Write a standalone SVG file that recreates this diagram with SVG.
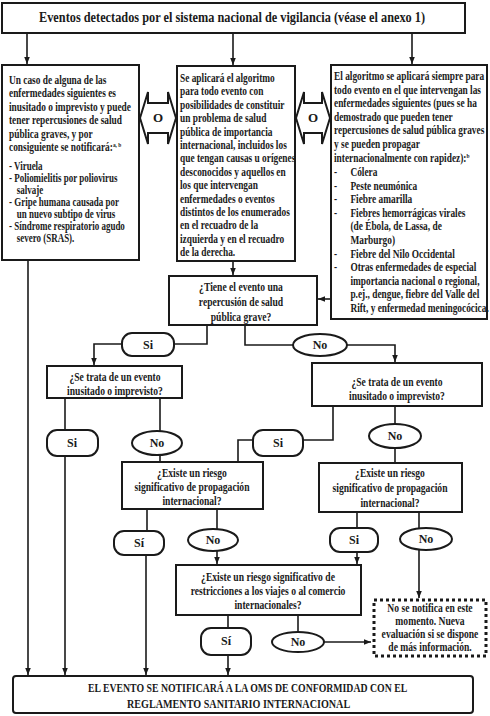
<svg xmlns="http://www.w3.org/2000/svg" width="490" height="716" viewBox="0 0 490 716">
<defs>
<style>
.box{fill:#fff;stroke:#1a1a1a;stroke-width:2}
.dot{fill:#fff;stroke:#1a1a1a;stroke-width:3;stroke-dasharray:3 3}
.ln{fill:none;stroke:#1a1a1a;stroke-width:1.6}
.t{font-family:"Liberation Serif","Times New Roman",serif;font-weight:bold;font-size:12px;fill:#1a1a1a}
.s{font-size:11.5px}
.c{text-anchor:middle}
.sup{font-size:7px}
.lb{font-family:"Liberation Serif","Times New Roman",serif;font-weight:bold;font-size:12px;fill:#1a1a1a;text-anchor:middle}
</style>
<marker id="ah" viewBox="0 0 10 10" refX="10" refY="5" markerWidth="7" markerHeight="7" markerUnits="userSpaceOnUse" orient="auto"><path d="M0,1 L10,5 L0,9 z" fill="#1a1a1a"/></marker>
</defs>
<rect width="490" height="716" fill="#fff"/>

<g id="connectors">
<path class="ln" d="M27,33 V64" marker-end="url(#ah)"/>
<path class="ln" d="M233,33 V65" marker-end="url(#ah)"/>
<path class="ln" d="M412,33 V64" marker-end="url(#ah)"/>
<path class="ln" d="M28,260 V675" marker-end="url(#ah)"/>
<path class="ln" d="M233,260 V275" marker-end="url(#ah)"/>
<path class="ln" d="M331,299 H318" marker-end="url(#ah)"/>
<path class="ln" d="M207,325 V344 H174"/>
<path class="ln" d="M122,344 H94 V365" marker-end="url(#ah)"/>
<path class="ln" d="M245,325 V345 H293"/>
<path class="ln" d="M347,345 H395 V362" marker-end="url(#ah)"/>
<path class="ln" d="M65,398 V430"/>
<path class="ln" d="M65,456 V675" marker-end="url(#ah)"/>
<path class="ln" d="M160,398 V431"/>
<path class="ln" d="M160,455 V462"/>
<path class="ln" d="M333,406 V440 H303"/>
<path class="ln" d="M253,440 H238 V462"/>
<path class="ln" d="M395,406 V424"/>
<path class="ln" d="M395,448 V463"/>
<path class="ln" d="M147,509 V531"/>
<path class="ln" d="M146,555 V675" marker-end="url(#ah)"/>
<path class="ln" d="M217,509 V529"/>
<path class="ln" d="M217,551 V564" marker-end="url(#ah)"/>
<path class="ln" d="M357,512 V528"/>
<path class="ln" d="M357,552 V564" marker-end="url(#ah)"/>
<path class="ln" d="M419,512 V528"/>
<path class="ln" d="M419,550 V598" marker-end="url(#ah)"/>
<path class="ln" d="M228,615 V628"/>
<path class="ln" d="M228,655 V675" marker-end="url(#ah)"/>
<path class="ln" d="M298,615 V632"/>
<path class="ln" d="M324,642 H371" marker-end="url(#ah)"/>
</g>

<g id="top">
<rect class="box" x="2" y="3" width="463" height="30"/>
<g transform="translate(39,0) scale(0.78,1)">
<text class="t" x="0" y="22" style="font-size:14.5px" textLength="495" lengthAdjust="spacingAndGlyphs">Eventos detectados por el sistema nacional de vigilancia (véase el anexo 1)</text>
</g>
</g>

<g id="left-box">
<rect class="box" x="2" y="65" width="137" height="195"/>
<g transform="translate(9,0) scale(0.78,1)">
<text class="t" x="0" y="84">Un caso de alguna de las</text>
<text class="t" x="0" y="97.5">enfermedades siguientes es</text>
<text class="t" x="0" y="111">inusitado o imprevisto y puede</text>
<text class="t" x="0" y="124.5">tener repercusiones de salud</text>
<text class="t" x="0" y="138">pública graves, y por</text>
<text class="t" x="0" y="151.5">consiguiente se notificará:<tspan class="sup" dy="-4">a, b</tspan></text>
<text class="t s" x="0" y="170">-  Viruela</text>
<text class="t s" x="0" y="182">-  Poliomielitis por poliovirus</text>
<text class="t s" x="10" y="194">salvaje</text>
<text class="t s" x="0" y="206">-  Gripe humana causada por</text>
<text class="t s" x="10" y="218">un nuevo subtipo de virus</text>
<text class="t s" x="0" y="230">-  Síndrome respiratorio agudo</text>
<text class="t s" x="10" y="242">severo (SRAS).</text>
</g>
</g>

<g id="or-left">
<polygon class="box" points="140,118 148,92 148,103 168,103 168,92 176,118 168,144 168,133 148,133 148,144"/>
<text class="lb" x="158" y="122" style="font-size:13px">O</text>
</g>

<g id="middle-box">
<rect class="box" x="177" y="66" width="118" height="195"/>
<g transform="translate(180,0) scale(0.78,1)">
<text class="t" x="0" y="82">Se aplicará el algoritmo</text>
<text class="t" x="0" y="95.4">para todo evento con</text>
<text class="t" x="0" y="108.8">posibilidades de constituir</text>
<text class="t" x="0" y="122.2">un problema de salud</text>
<text class="t" x="0" y="135.6">pública de importancia</text>
<text class="t" x="0" y="149">internacional, incluidos los</text>
<text class="t" x="0" y="162.4">que tengan causas u orígenes</text>
<text class="t" x="0" y="175.8">desconocidos y aquellos en</text>
<text class="t" x="0" y="189.2">los que intervengan</text>
<text class="t" x="0" y="202.6">enfermedades o eventos</text>
<text class="t" x="0" y="216">distintos de los enumerados</text>
<text class="t" x="0" y="229.4">en el recuadro de la</text>
<text class="t" x="0" y="242.8">izquierda y en el recuadro</text>
<text class="t" x="0" y="256.2">de la derecha.</text>
</g>
</g>

<g id="or-right">
<polygon class="box" points="296,118 304,92 304,103 322,103 322,92 330,118 322,144 322,133 304,133 304,144"/>
<text class="lb" x="313" y="122" style="font-size:13px">O</text>
</g>

<g id="right-box">
<rect class="box" x="331" y="65" width="156" height="254"/>
<g transform="translate(334,0) scale(0.78,1)">
<text class="t" x="0" y="80">El algoritmo se aplicará siempre para</text>
<text class="t" x="0" y="93.6">todo evento en el que intervengan las</text>
<text class="t" x="0" y="107.2">enfermedades siguientes (pues se ha</text>
<text class="t" x="0" y="120.8">demostrado que pueden tener</text>
<text class="t" x="0" y="134.4">repercusiones de salud pública graves</text>
<text class="t" x="0" y="148">y se pueden propagar</text>
<text class="t" x="0" y="161.6">internacionalmente con rapidez):<tspan class="sup" dy="-4">b</tspan></text>
<text class="t" x="0" y="176">-</text><text class="t" x="21" y="176">Cólera</text>
<text class="t" x="0" y="190">-</text><text class="t" x="21" y="190">Peste neumónica</text>
<text class="t" x="0" y="203">-</text><text class="t" x="21" y="203">Fiebre amarilla</text>
<text class="t" x="0" y="217">-</text><text class="t" x="21" y="217">Fiebres hemorrágicas virales</text>
<text class="t" x="21" y="230">(de Ébola, de Lassa, de</text>
<text class="t" x="21" y="244">Marburgo)</text>
<text class="t" x="0" y="258">-</text><text class="t" x="21" y="258">Fiebre del Nilo Occidental</text>
<text class="t" x="0" y="271">-</text><text class="t" x="21" y="271">Otras enfermedades de especial</text>
<text class="t" x="21" y="285">importancia nacional o regional,</text>
<text class="t" x="21" y="298.5">p.ej., dengue, fiebre del Valle del</text>
<text class="t" x="21" y="312">Rift, y enfermedad meningocócica.</text>
</g>
</g>

<g id="q-grave">
<rect class="box" x="169" y="276" width="148" height="49"/>
<g transform="translate(241,0) scale(0.8,1)">
<text class="t c" x="0" y="291">¿Tiene el evento una</text>
<text class="t c" x="0" y="306">repercusión de salud</text>
<text class="t c" x="0" y="321">pública grave?</text>
</g>
</g>

<g id="si-1"><rect class="box" x="122" y="333" width="52" height="23" rx="10"/><text class="lb" x="148" y="349">Si</text></g>
<g id="no-1"><ellipse class="box" cx="320" cy="345" rx="27" ry="11"/><text class="lb" x="320" y="349">No</text></g>

<g id="q-inusitado-left">
<rect class="box" x="47" y="366" width="135" height="32"/>
<g transform="translate(115,0) scale(0.8,1)">
<text class="t c" x="0" y="381">¿Se trata de un evento</text>
<text class="t c" x="0" y="395">inusitado o imprevisto?</text>
</g>
</g>

<g id="q-inusitado-right">
<rect class="box" x="312" y="363" width="170" height="43"/>
<g transform="translate(397,0) scale(0.8,1)">
<text class="t c" x="0" y="386">¿Se trata de un evento</text>
<text class="t c" x="0" y="400">inusitado o imprevisto?</text>
</g>
</g>

<g id="si-2"><rect class="box" x="47" y="430" width="51" height="26" rx="10"/><text class="lb" x="72" y="447">Si</text></g>
<g id="no-2"><ellipse class="box" cx="157" cy="443" rx="25" ry="12"/><text class="lb" x="157" y="447">No</text></g>
<g id="si-3"><rect class="box" x="253" y="430" width="50" height="26" rx="10"/><text class="lb" x="278" y="447">Si</text></g>
<g id="no-3"><ellipse class="box" cx="395" cy="436" rx="26" ry="12"/><text class="lb" x="395" y="440">No</text></g>

<g id="q-propagacion-left">
<rect class="box" x="122" y="462" width="141" height="47"/>
<g transform="translate(192,0) scale(0.8,1)">
<text class="t c" x="0" y="477">¿Existe un riesgo</text>
<text class="t c" x="0" y="491">significativo de propagación</text>
<text class="t c" x="0" y="505">internacional?</text>
</g>
</g>

<g id="q-propagacion-right">
<rect class="box" x="319" y="463" width="143" height="49"/>
<g transform="translate(390,0) scale(0.8,1)">
<text class="t c" x="0" y="477">¿Existe un riesgo</text>
<text class="t c" x="0" y="492">significativo de propagación</text>
<text class="t c" x="0" y="507">internacional?</text>
</g>
</g>

<g id="si-4"><rect class="box" x="114" y="531" width="50" height="24" rx="10"/><text class="lb" x="139" y="547">Sí</text></g>
<g id="no-4"><ellipse class="box" cx="213" cy="540" rx="25" ry="11"/><text class="lb" x="213" y="544">No</text></g>
<g id="si-5"><rect class="box" x="330" y="528" width="48" height="24" rx="10"/><text class="lb" x="354" y="544">Si</text></g>
<g id="no-5"><ellipse class="box" cx="426" cy="539" rx="26" ry="11"/><text class="lb" x="426" y="543">No</text></g>

<g id="q-restricciones">
<rect class="box" x="176" y="565" width="185" height="50"/>
<g transform="translate(268,0) scale(0.8,1)">
<text class="t c" x="0" y="581">¿Existe un riesgo significativo de</text>
<text class="t c" x="0" y="595">restricciones a los viajes o al comercio</text>
<text class="t c" x="0" y="609">internacionales?</text>
</g>
</g>

<g id="no-notifica">
<rect class="dot" x="374" y="600" width="112" height="56"/>
<g transform="translate(430,0) scale(0.8,1)">
<text class="t c" x="0" y="612">No se notifica en este</text>
<text class="t c" x="0" y="625">momento.  Nueva</text>
<text class="t c" x="0" y="638">evaluación si se dispone</text>
<text class="t c" x="0" y="651">de más información.</text>
</g>
</g>

<g id="si-6"><rect class="box" x="201" y="628" width="50" height="27" rx="10"/><text class="lb" x="226" y="645">Sí</text></g>
<g id="no-6"><ellipse class="box" cx="298" cy="642" rx="26" ry="10"/><text class="lb" x="298" y="646">No</text></g>

<g id="notificar">
<rect class="box" x="13" y="676" width="460" height="37" rx="3"/>
<g transform="translate(88,0) scale(0.8,1)">
<text class="t" x="0" y="692" style="font-size:12.5px" textLength="399" lengthAdjust="spacingAndGlyphs">EL EVENTO SE NOTIFICARÁ A LA OMS DE CONFORMIDAD CON EL</text>
</g>
<g transform="translate(127,0) scale(0.8,1)">
<text class="t" x="0" y="708" style="font-size:12.5px" textLength="279" lengthAdjust="spacingAndGlyphs">REGLAMENTO SANITARIO INTERNACIONAL</text>
</g>
</g>
</svg>
